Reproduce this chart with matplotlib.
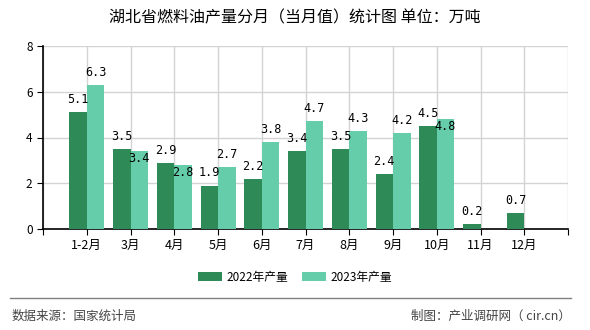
import numpy as np
import matplotlib
matplotlib.use("Agg")
import matplotlib.pyplot as plt

plt.rcParams['font.family'] = ['Noto Sans CJK SC', 'DejaVu Sans']

months = ['1-2月', '3月', '4月', '5月', '6月', '7月', '8月', '9月', '10月', '11月', '12月']
y2022 = [5.1, 3.5, 2.9, 1.9, 2.2, 3.4, 3.5, 2.4, 4.5, 0.2, 0.7]
y2023 = [6.3, 3.4, 2.8, 2.7, 3.8, 4.7, 4.3, 4.2, 4.8, None, None]

c22 = '#2e8b57'
c23 = '#66cdaa'

fig = plt.figure(figsize=(5.9, 3.3), dpi=100)
ax = fig.add_axes([43/590, 1 - 229/330, (568-43)/590, (229-46)/330])

x = np.arange(len(months))
w = 0.4
ax.bar(x - w/2, y2022, w, color=c22, label='2022年产量', zorder=3)
x23 = [i for i, v in zip(x, y2023) if v is not None]
v23 = [v for v in y2023 if v is not None]
ax.bar(np.array(x23) + w/2, v23, w, color=c23, label='2023年产量', zorder=3)

# labels that collide get pushed down (like in the original)
pushed = {1, 2, 8}
for i, v in zip(x, y2022):
    ax.text(i - w/2, v + 0.55, f'{v}', ha='center', va='center', fontsize=8.5,
            family='DejaVu Sans Mono', zorder=4)
for i, v in zip(x23, v23):
    dy = -0.32 if i in pushed else 0.55
    ax.text(i + w/2, v + dy, f'{v}', ha='center', va='center', fontsize=8.5,
            family='DejaVu Sans Mono', zorder=4)

ax.set_xlim(-1, len(months))
ax.set_ylim(0, 8)
ax.set_yticks([0, 2, 4, 6, 8])
ax.set_xticks(np.arange(-1, len(months) + 1))
ax.set_xticklabels([''] + months + [''], fontsize=9)
ax.tick_params(axis='y', labelsize=8.5, length=4)
ax.tick_params(axis='x', length=4)
ax.grid(True, color='#d3d3d3', linewidth=1, zorder=0)
for s in ['top', 'right']:
    ax.spines[s].set_visible(False)
ax.spines['left'].set_linewidth(1.2)
ax.spines['bottom'].set_linewidth(1.2)

fig.text(0.5, 1 - 18/330, '湖北省燃料油产量分月（当月值）统计图 单位：万吨', ha='center', va='center',
         fontsize=11.5)
fig.legend(loc='center', bbox_to_anchor=(0.5, 1 - 277/330), ncol=2, frameon=False, fontsize=8.5,
           handlelength=2.0, handleheight=0.9, handletextpad=0.4, columnspacing=1.2)

fig.add_artist(plt.Line2D([10/590, 571/590], [1 - 298/330, 1 - 298/330], color='#808080', linewidth=1))
fig.text(12/590, 1 - 316/330, '数据来源：国家统计局', ha='left', va='center', fontsize=9, color='#444444')
fig.text(571/590, 1 - 316/330, '制图：产业调研网（ cir.cn）', ha='right', va='center', fontsize=9, color='#444444')

fig.savefig('out.png', dpi=100)
